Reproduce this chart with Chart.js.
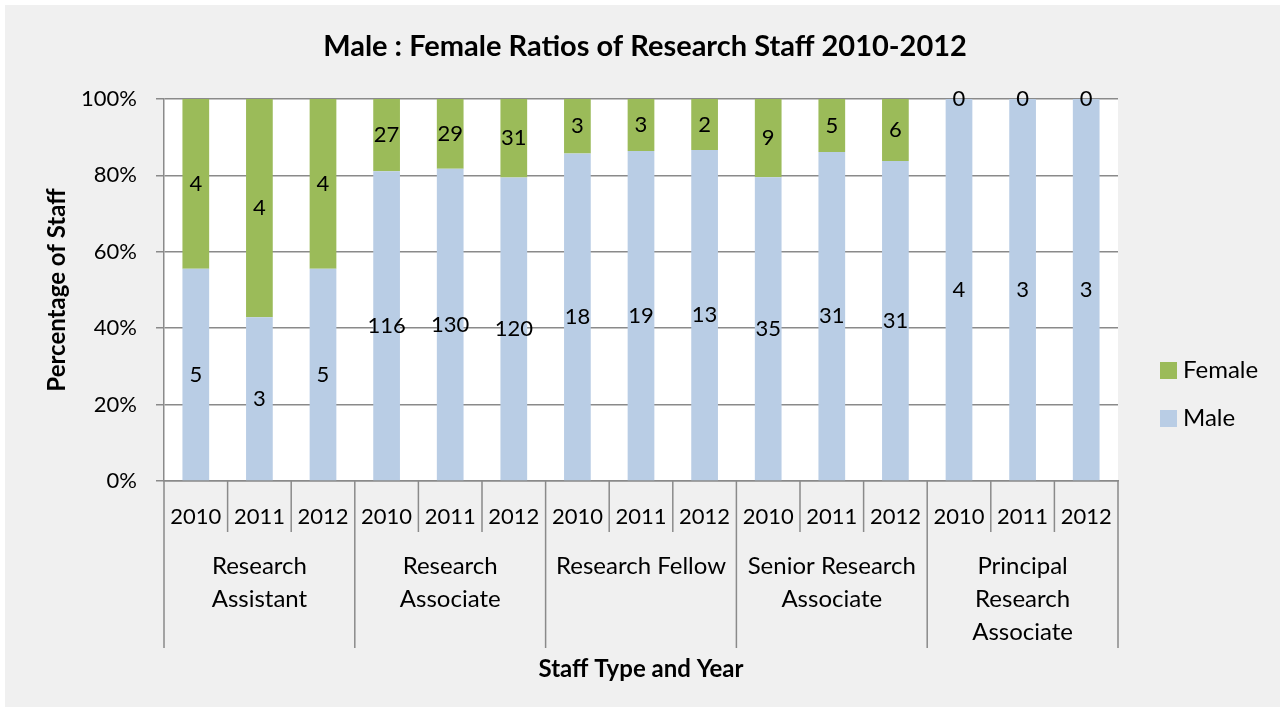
<!DOCTYPE html>
<html>
<head>
<meta charset="utf-8">
<script src="https://cdn.jsdelivr.net/npm/chart.js@4"></script>
<style>
html, body { margin: 0; padding: 0; background: #fff; }
#wrap { position: absolute; left: 5px; top: 5px; width: 1275px; height: 702px; background: #f0f0f0; }
</style>
</head>
<body>
<div id="wrap"><canvas id="myChart" width="1275" height="702"></canvas></div>
<script>
// data (head counts)
const groups = [['Research', 'Assistant'], ['Research', 'Associate'], ['Research Fellow'], ['Senior Research', 'Associate'], ['Principal', 'Research', 'Associate']];
const years = ['2010', '2011', '2012'];
const maleCounts = [5, 3, 5, 116, 130, 120, 18, 19, 13, 35, 31, 31, 4, 3, 3];
const femaleCounts = [4, 4, 4, 27, 29, 31, 3, 3, 2, 9, 5, 6, 0, 0, 0];
const yTicks = [0, 20, 40, 60, 80, 100];
const titleText = 'Male : Female Ratios of Research Staff 2010-2012';

const FONT = 'Lato';
const axisColor = '#8a8a8a';
const maleColor = '#b9cde5';
const femaleColor = '#9bbb59';

const labels = [];
groups.forEach(() => years.forEach(y => labels.push(y)));
const malePct = maleCounts.map((m, i) => m / (m + femaleCounts[i]) * 100);
const femalePct = femaleCounts.map((f, i) => f / (maleCounts[i] + f) * 100);

const excelPlugin = {
  id: 'excel',
  beforeDraw(chart) {
    const { ctx, chartArea: a } = chart;
    ctx.save();
    ctx.fillStyle = '#fff';
    ctx.fillRect(a.left, a.top, a.right - a.left, a.bottom - a.top);
    ctx.restore();
  },
  afterDatasetsDraw(chart) {
    const { ctx } = chart;
    ctx.save();
    ctx.fillStyle = '#000';
    ctx.font = `22px ${FONT}`;
    ctx.textAlign = 'center';
    ctx.textBaseline = 'middle';
    chart.data.datasets.forEach((ds, di) => {
      chart.getDatasetMeta(di).data.forEach((bar, i) => {
        const { x, y, base } = bar.getProps(['x', 'y', 'base'], true);
        ctx.fillText(String(ds.counts[i]), x, (y + base) / 2);
      });
    });
    ctx.restore();
  },
  afterDraw(chart) {
    const { ctx, chartArea: a, scales: { x } } = chart;
    ctx.save();
    ctx.fillStyle = '#000';
    ctx.textAlign = 'center';
    ctx.textBaseline = 'middle';

    // title
    ctx.font = `bold 29px ${FONT}`;
    ctx.fillText(titleText, 640, 42);

    // category ticks and group separators
    const step = x.getPixelForValue(1) - x.getPixelForValue(0);
    ctx.strokeStyle = axisColor;
    ctx.lineWidth = 1.5;
    for (let k = 0; k <= labels.length; k++) {
      const px = x.getPixelForValue(k) - step / 2;
      const len = k % 3 === 0 ? 167 : 51;
      ctx.beginPath();
      ctx.moveTo(px, a.bottom);
      ctx.lineTo(px, a.bottom + len);
      ctx.stroke();
    }

    // year labels
    ctx.font = `22px ${FONT}`;
    labels.forEach((lab, i) => ctx.fillText(lab, x.getPixelForValue(i), 512));

    // group labels
    ctx.font = `24px ${FONT}`;
    groups.forEach((lines, g) => {
      const cx = x.getPixelForValue(g * 3 + 1);
      lines.forEach((line, j) => ctx.fillText(line, cx, 561 + j * 33));
    });

    // legend (Female on top)
    const items = [['Female', femaleColor], ['Male', maleColor]];
    ctx.textAlign = 'left';
    items.forEach(([name, col], j) => {
      const top = 357 + j * 48;
      ctx.fillStyle = col;
      ctx.fillRect(1155, top, 17, 17);
      ctx.fillStyle = '#000';
      ctx.fillText(name, 1178, top + 8);
    });
    ctx.restore();
  }
};

new Chart(document.getElementById('myChart'), {
  type: 'bar',
  data: {
    labels: labels,
    datasets: [
      { label: 'Male', data: malePct, counts: maleCounts, backgroundColor: maleColor },
      { label: 'Female', data: femalePct, counts: femaleCounts, backgroundColor: femaleColor }
    ]
  },
  options: {
    responsive: false,
    animation: false,
    layout: { padding: { top: 94, right: 162, bottom: 0, left: 0 } },
    plugins: {
      legend: { display: false },
      title: { display: false },
      tooltip: { enabled: false }
    },
    datasets: { bar: { categoryPercentage: 1, barPercentage: 0.42 } },
    scales: {
      x: {
        stacked: true,
        ticks: { display: false },
        grid: { display: false },
        border: { display: true, color: axisColor, width: 1.5 },
        title: {
          display: true,
          text: 'Staff Type and Year',
          color: '#000',
          font: { family: FONT, size: 24, weight: 'bold' },
          padding: { top: 0, bottom: 23 }
        },
        afterFit(scale) { scale.height = 226; }
      },
      y: {
        stacked: true,
        min: 0,
        max: 100,
        afterBuildTicks(scale) { scale.ticks = yTicks.map(v => ({ value: v })); },
        ticks: {
          color: '#000',
          padding: 19,
          font: { family: FONT, size: 22 },
          callback: v => v + '%'
        },
        grid: { color: axisColor, lineWidth: 1.5, tickLength: 8 },
        border: { display: true, color: axisColor, width: 1.5 },
        title: {
          display: true,
          text: 'Percentage of Staff',
          color: '#000',
          font: { family: FONT, size: 24, weight: 'bold' },
          padding: { top: 38, bottom: 0 }
        },
        afterFit(scale) { scale.width = 159; }
      }
    }
  },
  plugins: [excelPlugin]
});
</script>
</body>
</html>
